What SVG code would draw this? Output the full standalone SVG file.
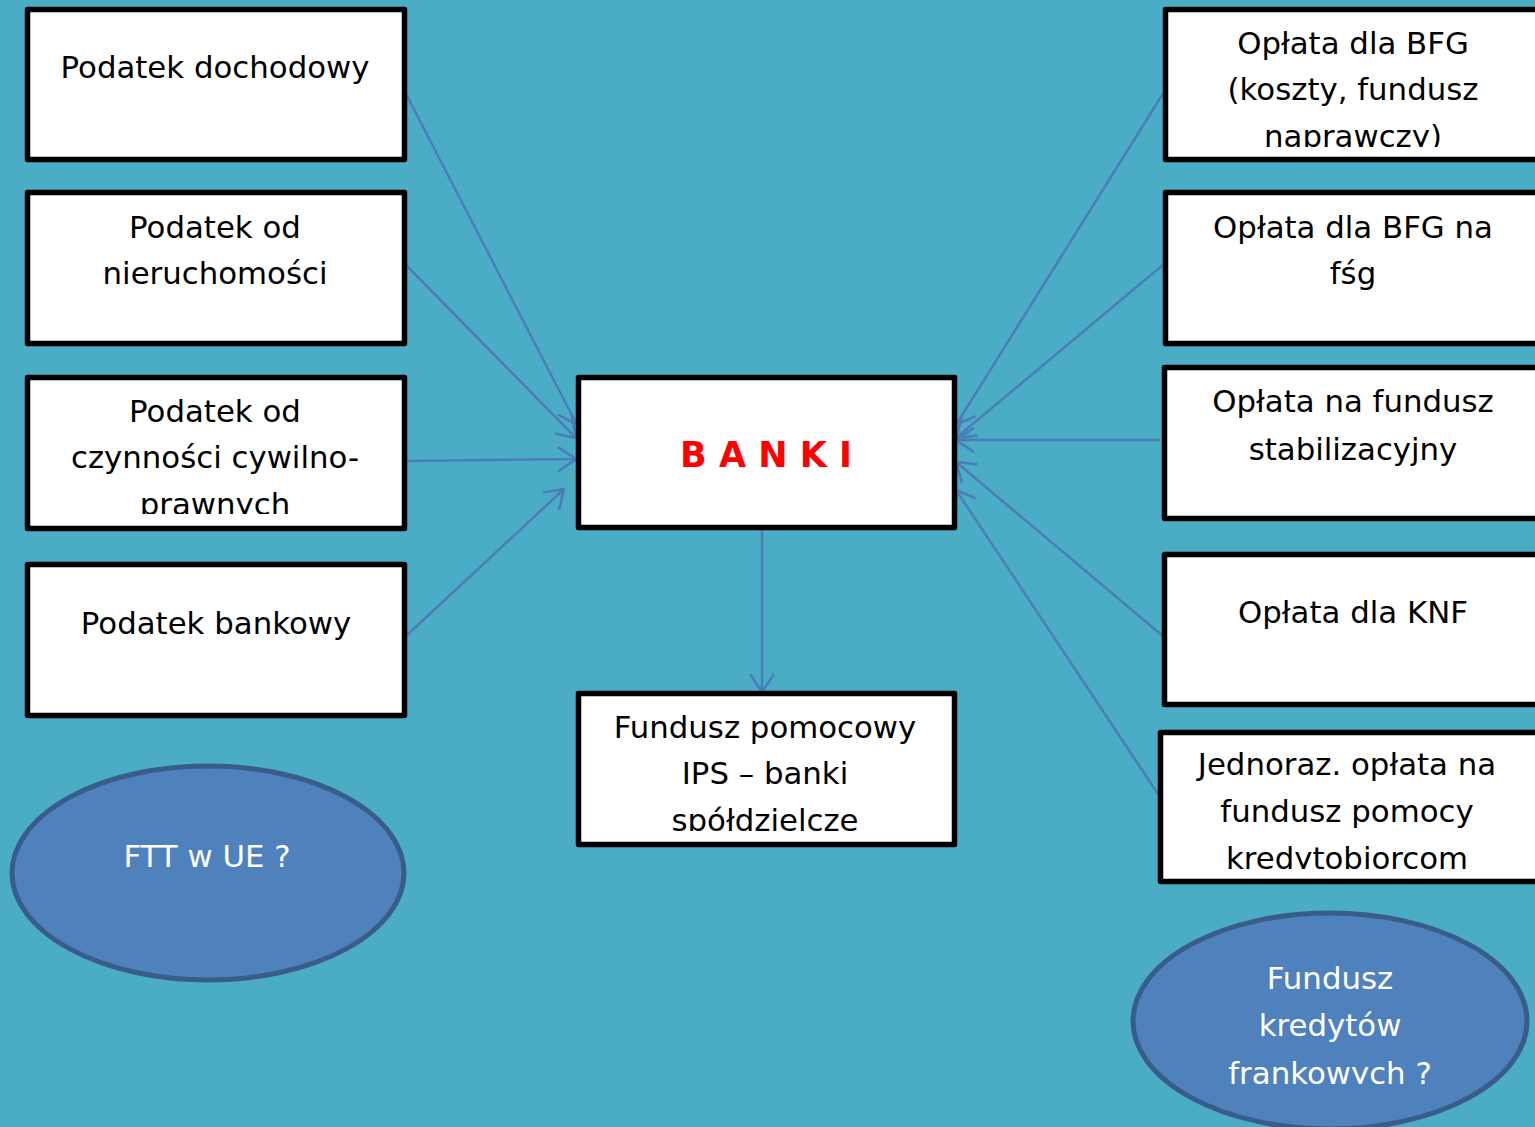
<svg xmlns="http://www.w3.org/2000/svg" width="1535" height="1127" viewBox="0 0 1535 1127">
<defs>
<style>
.box{fill:#fff;stroke:#000;stroke-width:5.5;stroke-linejoin:round}
.t{font-family:"DejaVu Sans",Verdana,sans-serif;font-size:30.8px;fill:#000;text-anchor:middle}
.w{fill:#fff}
.ell{fill:#4F81BD;stroke:#385D8A;stroke-width:5}
.c{stroke:#4A7EBB;stroke-width:2.5;fill:none;marker-end:url(#ah)}
</style>
<marker id="ah" markerUnits="userSpaceOnUse" viewBox="0 0 20 26" refX="19" refY="13" markerWidth="20" markerHeight="26" orient="auto">
<path d="M1,1 L19,13 L1,25" fill="none" stroke="#4A7EBB" stroke-width="2.6"/>
</marker>
<clipPath id="c3"><rect x="0" y="0" width="1535" height="514"/></clipPath>
<clipPath id="cr1"><rect x="0" y="0" width="1535" height="147"/></clipPath>
<clipPath id="cf"><rect x="0" y="0" width="1535" height="831"/></clipPath>
<clipPath id="cr5"><rect x="0" y="0" width="1535" height="869"/></clipPath>
<clipPath id="ce"><rect x="0" y="0" width="1535" height="1084"/></clipPath>
</defs>
<rect width="1535" height="1127" fill="#4BACC6"/>
<g id="connectors">
<line class="c" x1="405" y1="92" x2="577" y2="425"/>
<line class="c" x1="405" y1="264" x2="576" y2="438"/>
<line class="c" x1="405" y1="461" x2="576" y2="459"/>
<line class="c" x1="405" y1="637" x2="564" y2="489"/>
<line class="c" x1="1164" y1="92" x2="956" y2="425"/>
<line class="c" x1="1164" y1="264" x2="956" y2="438"/>
<line class="c" x1="1160" y1="440" x2="956" y2="440"/>
<line class="c" x1="1164" y1="637" x2="956" y2="462"/>
<line class="c" x1="1160" y1="797" x2="956" y2="490"/>
<line class="c" x1="762" y1="530" x2="762" y2="692"/>
</g>
<g id="podatek-dochodowy">
<rect class="box" x="27.5" y="9.5" width="377" height="150"/>
<text class="t" x="215" y="78">Podatek dochodowy</text>
</g>
<g id="podatek-nieruchomosci">
<rect class="box" x="27.5" y="192.5" width="377" height="151"/>
<text class="t" x="215" y="238">Podatek od</text>
<text class="t" x="215" y="284">nieruchomości</text>
</g>
<g id="podatek-pcc">
<rect class="box" x="27.5" y="377.5" width="377" height="151"/>
<g clip-path="url(#c3)">
<text class="t" x="215" y="422">Podatek od</text>
<text class="t" x="215" y="468">czynności cywilno-</text>
<text class="t" x="215" y="515">prawnych</text>
</g>
</g>
<g id="podatek-bankowy">
<rect class="box" x="27.5" y="564.5" width="377" height="151"/>
<text class="t" x="216" y="634">Podatek bankowy</text>
</g>
<g id="ftt">
<ellipse class="ell" cx="208" cy="873" rx="196" ry="107"/>
<text class="t w" x="207" y="867">FTT w UE ?</text>
</g>
<g id="banki">
<rect class="box" x="578.5" y="377.5" width="376" height="150"/>
<text x="766" y="467" text-anchor="middle" font-family="DejaVu Sans,Verdana,sans-serif" font-weight="bold" font-size="35" fill="#FF0000">B A N K I</text>
</g>
<g id="fundusz-ips">
<rect class="box" x="578.5" y="693.5" width="376" height="151"/>
<g clip-path="url(#cf)">
<text class="t" x="765" y="738">Fundusz pomocowy</text>
<text class="t" x="765" y="784">IPS – banki</text>
<text class="t" x="765" y="831">spółdzielcze</text>
</g>
</g>
<g id="oplata-bfg">
<rect class="box" x="1165.5" y="9.5" width="400" height="150"/>
<g clip-path="url(#cr1)">
<text class="t" x="1353" y="54">Opłata dla BFG</text>
<text class="t" x="1353" y="100">(koszty, fundusz</text>
<text class="t" x="1353" y="147">naprawczy)</text>
</g>
</g>
<g id="oplata-bfg-fsg">
<rect class="box" x="1165.5" y="192.5" width="400" height="151"/>
<text class="t" x="1353" y="238">Opłata dla BFG na</text>
<text class="t" x="1353" y="284">fśg</text>
</g>
<g id="oplata-stabilizacyjny">
<rect class="box" x="1164.5" y="367.5" width="400" height="151"/>
<text class="t" x="1353" y="412">Opłata na fundusz</text>
<text class="t" x="1353" y="460">stabilizacyjny</text>
</g>
<g id="oplata-knf">
<rect class="box" x="1164.5" y="554.5" width="400" height="150"/>
<text class="t" x="1353" y="623">Opłata dla KNF</text>
</g>
<g id="jednoraz">
<rect class="box" x="1160.5" y="732.5" width="400" height="149"/>
<g clip-path="url(#cr5)">
<text class="t" x="1347" y="775">Jednoraz. opłata na</text>
<text class="t" x="1347" y="822">fundusz pomocy</text>
<text class="t" x="1347" y="869">kredytobiorcom</text>
</g>
</g>
<g id="fundusz-frankowych">
<ellipse class="ell" cx="1330" cy="1021" rx="197" ry="108"/>
<g clip-path="url(#ce)">
<text class="t w" x="1330" y="989">Fundusz</text>
<text class="t w" x="1330" y="1036">kredytów</text>
<text class="t w" x="1330" y="1084">frankowych ?</text>
</g>
</g>
</svg>
